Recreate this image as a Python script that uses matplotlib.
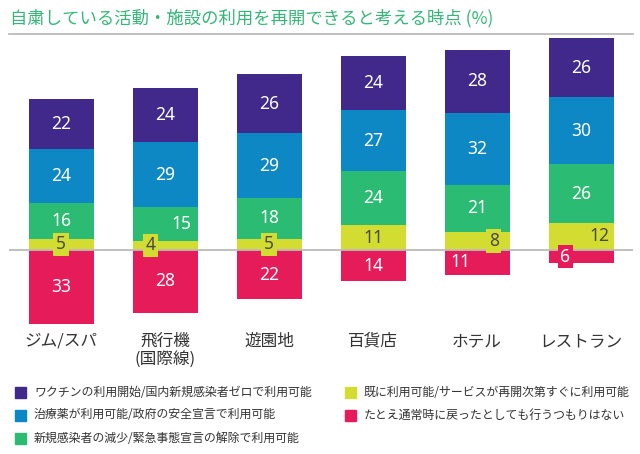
import matplotlib
matplotlib.use('Agg')
import matplotlib.pyplot as plt
from matplotlib.patches import Rectangle
from matplotlib.lines import Line2D

plt.rcParams['font.family'] = ['Noto Sans CJK JP', 'DejaVu Sans']

categories = ['ジム/スパ', '飛行機\n(国際線)', '遊園地', '百貨店', 'ホテル', 'レストラン']

# positive stack, bottom to top
already = [5, 4, 5, 11, 8, 12]
fewer_cases = [16, 15, 18, 24, 21, 26]
treatment = [24, 29, 29, 27, 32, 30]
vaccine = [22, 24, 26, 24, 28, 26]
# below the zero line
never = [33, 28, 22, 14, 11, 6]

names = {
    'vaccine': 'ワクチンの利用開始/国内新規感染者ゼロで利用可能',
    'treatment': '治療薬が利用可能/政府の安全宣言で利用可能',
    'fewer_cases': '新規感染者の減少/緊急事態宣言の解除で利用可能',
    'already': '既に利用可能/サービスが再開次第すぐに利用可能',
    'never': 'たとえ通常時に戻ったとしても行うつもりはない',
}
colors = {
    'vaccine': '#40298A',
    'treatment': '#0E88C4',
    'fewer_cases': '#2CBB72',
    'already': '#D3DD31',
    'never': '#E61B5A',
}
text_colors = {k: 'white' for k in colors}
text_colors['already'] = '#4A4A4A'

# nudges for labels that would otherwise collide (in bar widths)
nudge = {('fewer_cases', 1): 0.16, ('already', 1): -0.14,
         ('already', 4): 0.16, ('never', 4): -0.16,
         ('already', 5): 0.18, ('never', 5): -0.15}

W, H = 640, 454
fig = plt.figure(figsize=(W / 100, H / 100), dpi=100)
ax = fig.add_axes([9 / W, 1 - 330 / H, 624 / W, 294 / H])

x = list(range(len(categories)))
bw = 0.625

series = {'already': already, 'fewer_cases': fewer_cases,
          'treatment': treatment, 'vaccine': vaccine}
bottoms = [0] * len(x)
for key, vals in series.items():
    ax.bar(x, vals, bw, bottom=bottoms, color=colors[key], zorder=2)
    for i, v in enumerate(vals):
        bb = None
        if v <= 8:
            bb = dict(boxstyle='square,pad=0.15', fc=colors[key], ec='none')
        ax.text(i + nudge.get((key, i), 0), bottoms[i] + v / 2, str(v),
                ha='center', va='center', fontsize=12.5,
                color=text_colors[key], bbox=bb, zorder=4,
                family=['Noto Sans'])
    bottoms = [b + v for b, v in zip(bottoms, vals)]

neg = [-v for v in never]
ax.bar(x, neg, bw, color=colors['never'], zorder=2)
for i, v in enumerate(never):
    bb = None
    if v <= 8:
        bb = dict(boxstyle='square,pad=0.15', fc=colors['never'], ec='none')
    ax.text(i + nudge.get(('never', i), 0), -v / 2, str(v),
            ha='center', va='center', fontsize=12.5, color='white',
            bbox=bb, zorder=4, family=['Noto Sans'])

ax.axhline(0, color='#BBBBBB', lw=1.3, zorder=3)

ax.set_xlim(-0.5, 5.5)
ax.set_ylim(-35.6, 95.1)
ax.set_xticks(x)
ax.set_xticklabels(categories, fontsize=12, color='#333333', linespacing=1.1)
ax.tick_params(axis='x', length=0, pad=2)
ax.set_yticks([])
for s in ax.spines.values():
    s.set_visible(False)

# title and rule
fig.text(10 / W, 1 - 18 / H, '自粛している活動・施設の利用を再開できると考える時点 (%)',
         fontsize=12.5, color='#35B779', va='center', ha='left')
fig.add_artist(Line2D([9 / W, 633 / W], [1 - 34 / H, 1 - 34 / H],
                      color='#BBBBBB', lw=1.3, transform=fig.transFigure))

# legend
legend_items = [('vaccine', 15, 392), ('treatment', 15, 415),
                ('fewer_cases', 15, 438), ('already', 345, 392),
                ('never', 345, 415)]
sq = 11
for key, lx, ly in legend_items:
    fig.add_artist(Rectangle((lx / W, 1 - (ly + sq / 2) / H), sq / W, sq / H,
                             color=colors[key], transform=fig.transFigure))
    fig.text((lx + 19) / W, 1 - ly / H, names[key], fontsize=8.6,
             color='#333333', va='center', ha='left')

fig.savefig('out.png', dpi=100)
